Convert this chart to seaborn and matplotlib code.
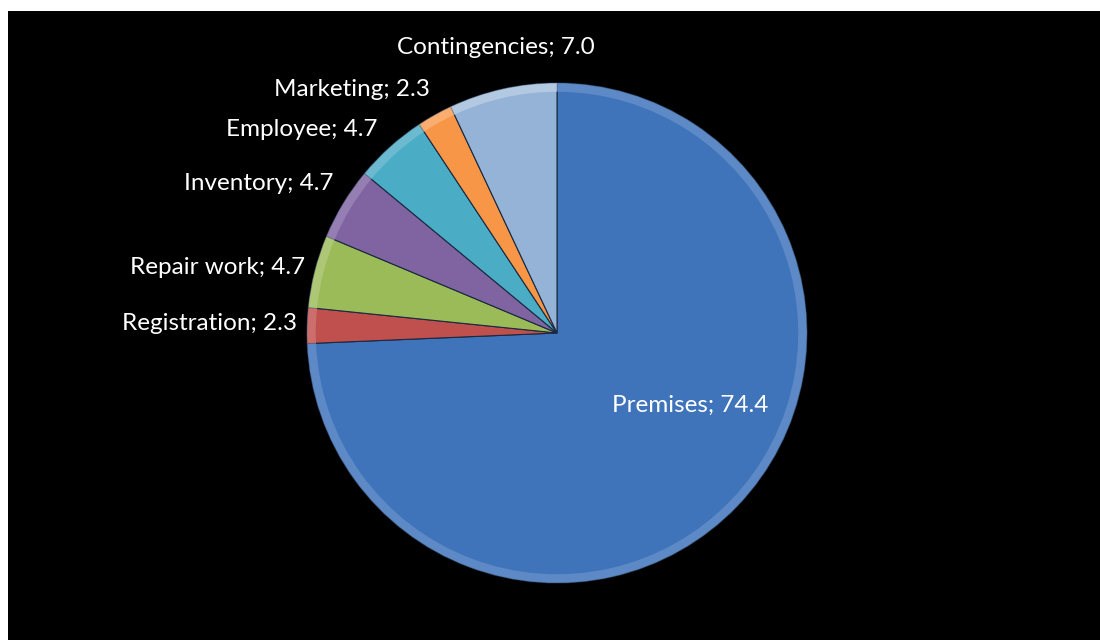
import matplotlib
matplotlib.use("Agg")
import matplotlib.pyplot as plt
import seaborn as sns
import colorsys

# data
categories = ["Premises", "Registration", "Repair work", "Inventory",
              "Employee", "Marketing", "Contingencies"]
values = [74.4, 2.3, 4.7, 4.7, 4.7, 2.3, 7.0]

# office 2007 style colours
colors = ["#3F74BA", "#C0504D", "#9BBB59", "#8064A2", "#4BACC6", "#F79646", "#95B3D7"]

# where excel put the data labels (pie radius = 1), and how they are anchored
label_xy = [(0.532, -0.288), (-1.04, 0.04), (-1.008, 0.264), (-0.896, 0.596),
            (-0.716, 0.812), (-0.508, 0.972), (-0.244, 1.144)]
label_ha = ["center", "right", "right", "right", "right", "right", "center"]

sns.set_theme(style="white")
plt.rcParams['font.family'] = ['Lato', 'DejaVu Sans']

fig = plt.figure(figsize=(11, 6.4), dpi=100)
fig.patch.set_facecolor("white")
ax = fig.add_axes([8/1100, 0, 1092/1100, 629/640])

labels = [f"{c}; {v:.1f}" for c, v in zip(categories, values)]
wedges, texts = ax.pie(values, labels=labels, colors=colors, startangle=90,
                       counterclock=False, radius=1,
                       wedgeprops=dict(edgecolor="#1a2a40", linewidth=0.8),
                       textprops=dict(color="white", fontsize=17.5))

# lighter rim to fake the bevel
def lighter(c, amt=0.12):
    h, l, s = colorsys.rgb_to_hls(*matplotlib.colors.to_rgb(c))
    return colorsys.hls_to_rgb(h, min(0.88, l + amt), s)

rim = [lighter(c) for c in colors]
ax.pie(values, colors=rim, startangle=90, counterclock=False, radius=1,
       wedgeprops=dict(width=0.035, edgecolor="none", alpha=0.7))

for t, xy, ha in zip(texts, label_xy, label_ha):
    t.set_position(xy)
    t.set_ha(ha)
    t.set_va("center")

ax.set_xlim(-549/250, 543/250)
ax.set_ylim(-307/250, 322/250)
ax.set_aspect("auto")
ax.set_axis_on()
ax.set_frame_on(True)
ax.set_facecolor("black")
for s in ax.spines.values():
    s.set_visible(False)
ax.set_xticks([])
ax.set_yticks([])

fig.savefig("out.png", dpi=100, facecolor="white")
